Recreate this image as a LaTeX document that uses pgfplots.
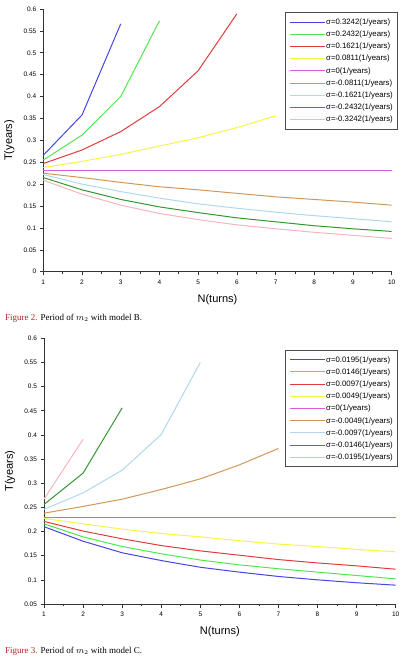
\documentclass[border=0pt]{standalone}
\usepackage{pgfplots}
\pgfplotsset{compat=1.18}
\usepackage{fontspec}
\setmainfont{Liberation Sans}
\newfontfamily\capfont{Liberation Serif}
\definecolor{c1}{RGB}{70,70,225}
\definecolor{c2}{RGB}{80,230,80}
\definecolor{c3}{RGB}{225,60,60}
\definecolor{c4}{RGB}{245,245,70}
\definecolor{c5}{RGB}{220,90,220}
\definecolor{c6}{RGB}{210,150,90}
\definecolor{c7}{RGB}{175,215,240}
\definecolor{c8}{RGB}{50,150,50}
\definecolor{c9}{RGB}{245,180,190}
\definecolor{capred}{RGB}{170,40,35}
\pgfplotsset{
  mystyle/.style={
    scale only axis,
    anchor=south west,
    xmin=1, xmax=10,
    axis x line*=bottom, axis y line*=left,
    axis line style={-, line width=0.7pt, black!80},
    tick align=outside,
    major tick length=3.5pt, minor tick length=2pt,
    tick style={black!80, line width=0.6pt},
    xtick={1,...,10},
    minor x tick num=1,
    /pgf/number format/assume math mode=true,
    tick label style={font=\fontsize{6.5}{7}\selectfont},
    xticklabel style={yshift=-1pt},
    label style={font=\fontsize{11}{12}\selectfont},
    xlabel={N(turns)}, ylabel={T(years)},
    xlabel style={at={(axis description cs:0.5,0)}, anchor=center, yshift=-28pt},
    ylabel style={at={(axis description cs:0,0.5)}, anchor=center, yshift=34pt},
    legend cell align=left,
    legend style={font=\fontsize{7.8}{8}\selectfont, draw=black!70, line width=0.8pt,
      row sep=2.7pt, inner xsep=3.5pt, inner ysep=4.6pt,
      nodes={inner sep=1pt, text height=6pt, text depth=1.5pt}},
    legend image code/.code={\draw[#1, line width=1pt] (0pt,0pt) -- (35pt,0pt);},
    every axis plot/.append style={line width=1pt, mark=none},
    clip=false,
  }
}
\begin{document}
\begin{tikzpicture}
\path[use as bounding box] (0,0) rectangle (405pt,-659pt);
\begin{axis}[mystyle, at={(43.3pt,-271.7pt)}, width=348.4pt, height=262.7pt,
  ymin=0, ymax=0.6, ytick={0,0.05,...,0.6},
  yticklabels={0,0.05,0.1,0.15,0.2,0.25,0.3,0.35,0.4,0.45,0.5,0.55,0.6},
  legend style={at={(1,1)}, anchor=north east, xshift=6pt, yshift=-3.3pt}]
\addplot[c1] coordinates {(1,0.266)(2,0.358)(3,0.566)};
\addlegendentry{σ=0.3242(1/years)}
\addplot[c2] coordinates {(1,0.255)(2,0.312)(3,0.400)(4,0.573)};
\addlegendentry{σ=0.2432(1/years)}
\addplot[c3] coordinates {(1,0.247)(2,0.278)(3,0.320)(4,0.377)(5,0.459)(6,0.589)};
\addlegendentry{σ=0.1621(1/years)}
\addplot[c4] coordinates {(1,0.238)(2,0.252)(3,0.268)(4,0.287)(5,0.306)(6,0.329)(7,0.356)};
\addlegendentry{σ=0.0811(1/years)}
\addplot[c5] coordinates {(1,0.2307)(2,0.2307)(3,0.2307)(4,0.2307)(5,0.2307)(6,0.2307)(7,0.2307)(8,0.2307)(9,0.2307)(10,0.2307)};
\addlegendentry{σ=0(1/years)}
\addplot[c6] coordinates {(1,0.225)(2,0.215)(3,0.204)(4,0.194)(5,0.187)(6,0.179)(7,0.171)(8,0.165)(9,0.159)(10,0.152)};
\addlegendentry{σ=-0.0811(1/years)}
\addplot[c7] coordinates {(1,0.222)(2,0.200)(3,0.183)(4,0.168)(5,0.155)(6,0.145)(7,0.136)(8,0.128)(9,0.121)(10,0.114)};
\addlegendentry{σ=-0.1621(1/years)}
\addplot[c8] coordinates {(1,0.215)(2,0.187)(3,0.165)(4,0.148)(5,0.135)(6,0.123)(7,0.114)(8,0.105)(9,0.098)(10,0.092)};
\addlegendentry{σ=-0.2432(1/years)}
\addplot[c9] coordinates {(1,0.209)(2,0.177)(3,0.152)(4,0.133)(5,0.119)(6,0.107)(7,0.098)(8,0.090)(9,0.083)(10,0.076)};
\addlegendentry{σ=-0.3242(1/years)}
\end{axis}
\node[anchor=west, font=\capfont\fontsize{9}{10}\selectfont, inner sep=0pt] at (5pt,-318pt) {\textcolor{capred}{Figure 2.} Period of $m_2$ with model B.};
\begin{axis}[mystyle, at={(44pt,-604pt)}, width=351.7pt, height=265.7pt,
  ymin=0.05, ymax=0.6, ytick={0.05,0.1,...,0.6},
  yticklabels={0.05,0.1,0.15,0.2,0.25,0.3,0.35,0.4,0.45,0.5,0.55,0.6},
  legend style={at={(1,1)}, anchor=north east, xshift=2pt, yshift=-11.7pt}]
\addplot[c1] coordinates {(1,0.210)(2,0.180)(3,0.156)(4,0.140)(5,0.126)(6,0.116)(7,0.107)(8,0.100)(9,0.094)(10,0.089)};
\addlegendentry{σ=0.0195(1/years)}
\addplot[c2] coordinates {(1,0.216)(2,0.189)(3,0.169)(4,0.154)(5,0.141)(6,0.131)(7,0.123)(8,0.116)(9,0.109)(10,0.102)};
\addlegendentry{σ=0.0146(1/years)}
\addplot[c3] coordinates {(1,0.221)(2,0.201)(3,0.185)(4,0.171)(5,0.160)(6,0.151)(7,0.142)(8,0.135)(9,0.129)(10,0.122)};
\addlegendentry{σ=0.0097(1/years)}
\addplot[c4] coordinates {(1,0.227)(2,0.216)(3,0.205)(4,0.196)(5,0.189)(6,0.181)(7,0.174)(8,0.169)(9,0.163)(10,0.158)};
\addlegendentry{σ=0.0049(1/years)}
\addplot[c5] coordinates {(1,0.230)(2,0.230)(3,0.230)(4,0.230)(5,0.230)(6,0.230)(7,0.230)(8,0.230)(9,0.230)(10,0.230)};
\addlegendentry{σ=0(1/years)}
\addplot[c6] coordinates {(1,0.238)(2,0.252)(3,0.267)(4,0.287)(5,0.309)(6,0.338)(7,0.372)};
\addlegendentry{σ=-0.0049(1/years)}
\addplot[c7] coordinates {(1,0.246)(2,0.280)(3,0.327)(4,0.401)(5,0.550)};
\addlegendentry{σ=-0.0097(1/years)}
\addplot[c8] coordinates {(1,0.256)(2,0.321)(3,0.456)};
\addlegendentry{σ=-0.0146(1/years)}
\addplot[c9] coordinates {(1,0.267)(2,0.391)};
\addlegendentry{σ=-0.0195(1/years)}
\end{axis}
\node[anchor=west, font=\capfont\fontsize{9}{10}\selectfont, inner sep=0pt] at (5pt,-651.7pt) {\textcolor{capred}{Figure 3.} Period of $m_2$ with model C.};
\end{tikzpicture}
\end{document}
